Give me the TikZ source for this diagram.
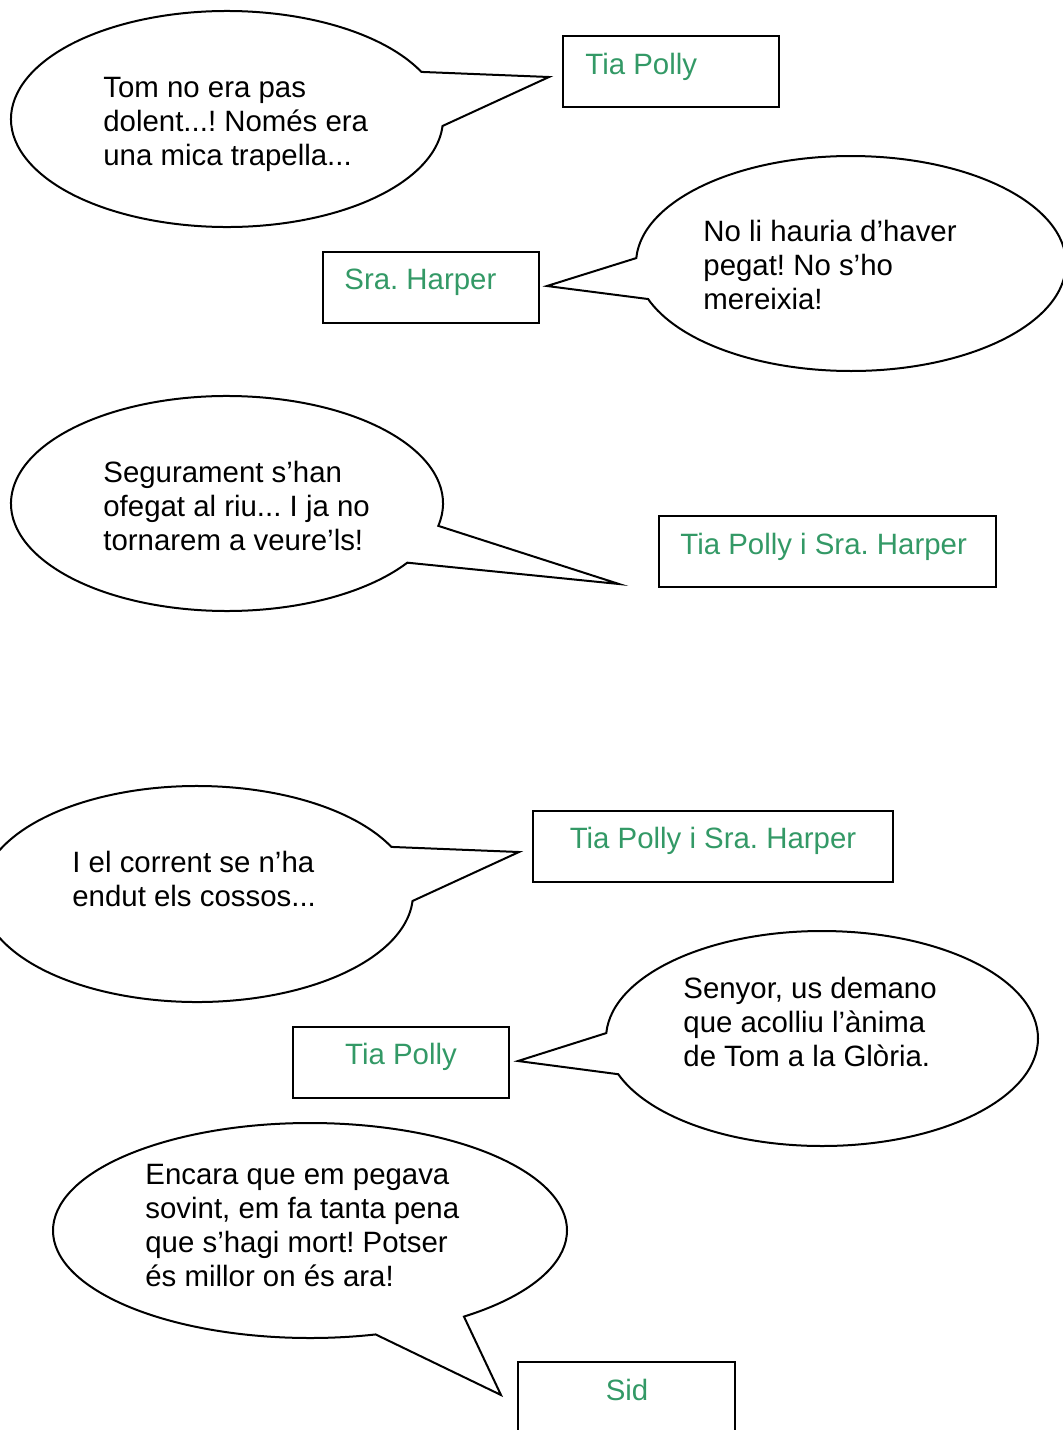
\documentclass[tikz,border=0pt]{standalone}
\usepackage{fontspec}
\setmainfont{Liberation Sans}
\definecolor{spk}{HTML}{339966}
\begin{document}
\frenchspacing
\begin{tikzpicture}[x=0.5pt,y=-0.5pt,
  bubble/.style={draw=black,fill=white,line width=1pt,line join=miter},
  speech/.style={anchor=west,align=left,inner sep=0pt,font=\fontsize{14.7}{17}\selectfont\frenchspacing},
  namebox/.style={draw=black,line width=1pt,minimum width=#1,minimum height=35.5pt,inner sep=0pt},
  who/.style={inner sep=0pt,text=spk,font=\fontsize{14.7}{17}\selectfont\frenchspacing}]
\useasboundingbox (0,0) rectangle (1063,1430);
\clip (0,0) rectangle (1063,1430);

% centres and tips
\coordinate (c1) at (227,119);    \coordinate (tip1) at (549,77);
\coordinate (c2) at (851,263.5);  \coordinate (tip2) at (547,286);
\coordinate (c3) at (227,503.5);  \coordinate (tip3) at (619,584);
\coordinate (c4) at (197,894);    \coordinate (tip4) at (519,852);
\coordinate (c5) at (822,1038.5); \coordinate (tip5) at (518,1061);
\coordinate (c6) at (310,1230.5); \coordinate (tip6) at (501,1395);

% bubbles
\draw[bubble] (c1) ++(-25.85:216 and 108) arc[start angle=-25.85, end angle=-356.3, x radius=216, y radius=108] -- (tip1) -- cycle;
\draw[bubble] (c2) ++(182.9:215 and 107.5) arc[start angle=182.9, end angle=520.7, x radius=215, y radius=107.5] -- (tip2) -- cycle;
\draw[bubble] (c3) ++(12.0:216 and 107.5) arc[start angle=12.0, end angle=-326.6, x radius=216, y radius=107.5] -- (tip3) -- cycle;
\draw[bubble] (c4) ++(-25.85:216 and 108) arc[start angle=-25.85, end angle=-356.3, x radius=216, y radius=108] -- (tip4) -- cycle;
\draw[bubble] (c5) ++(182.9:216 and 107.5) arc[start angle=182.9, end angle=520.6, x radius=216, y radius=107.5] -- (tip5) -- cycle;
\draw[bubble] (c6) ++(53.2:257 and 107.5) arc[start angle=53.2, end angle=-284.8, x radius=257, y radius=107.5] -- (tip6) -- cycle;

% bubble texts
\node[speech] (t1) at (103,124) {Tom no era pas\\dolent...! Només era\\una mica trapella...};
\node[speech] (t2) at (703,264.5) {No li hauria d’haver\\pegat! No s’ho\\mereixia!};
\node[speech] (t3) at (103,505.5) {Segurament s’han\\ofegat al riu... I ja no\\tornarem a veure’ls!};
\node[speech] (t4) at (72,878.5) {I el corrent se n’ha\\endut els cossos...};
\node[speech] (t5) at (683,1021.5) {Senyor, us demano\\que acolliu l’ànima\\de Tom a la Glòria.};
\node[speech] (t6) at (145,1226) {Encara que em pegava\\sovint, em fa tanta pena\\que s’hagi mort! Potser\\és millor on és ara!};

% name boxes
\node[namebox=108pt] (p1) at (671,71.5) {};
\node[namebox=108pt] (p2) at (431,287.5) {};
\node[namebox=168.5pt] (p3) at (827.5,551.5) {};
\node[namebox=180pt] (p4) at (713,846.5) {};
\node[namebox=108pt] (p5) at (401,1062.5) {};
\node[namebox=108.5pt] (p6) at (626.5,1397.5) {};

% names
\node[who,anchor=west] (l1) at (585,67) {Tia Polly};
\node[who,anchor=west] (l2) at (344,282) {Sra. Harper};
\node[who,anchor=west] (l3) at (680,547) {Tia Polly i Sra. Harper};
\node[who] (l4) at (713,841) {Tia Polly i Sra. Harper};
\node[who] (l5) at (401,1057) {Tia Polly};
\node[who] (l6) at (627,1390) {Sid};
\end{tikzpicture}
\end{document}
